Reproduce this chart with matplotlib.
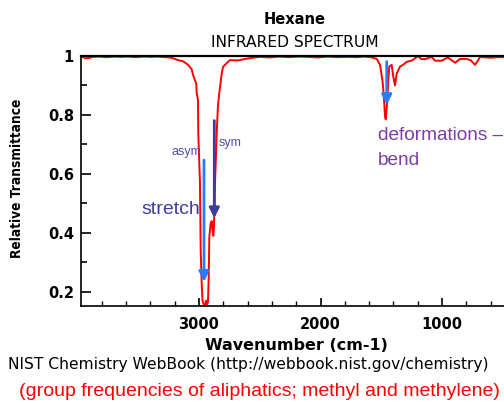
import matplotlib
matplotlib.use("Agg")
import matplotlib.pyplot as plt

# ---- data ----
wavenumber = [3971, 3950, 3935, 3915, 3895, 3880, 3820, 3760, 3700, 3640, 3580, 3520, 3460,
              3400, 3340, 3280, 3240, 3210, 3173, 3130, 3090, 3060, 3049, 3035, 3022, 3019,
              3008, 3006, 2992, 2986, 2978, 2971, 2963, 2951, 2942, 2934, 2926, 2920, 2915,
              2905, 2895, 2889, 2882, 2877, 2868, 2854, 2844, 2833, 2813, 2802, 2772, 2745,
              2679, 2621, 2560, 2498, 2420, 2340, 2260, 2180, 2100, 2020, 1940, 1860, 1780,
              1700, 1640, 1576, 1537, 1510, 1488, 1477, 1469, 1463, 1456, 1450, 1442, 1434,
              1414, 1401, 1387, 1373, 1346, 1321, 1291, 1247, 1195, 1173, 1140, 1085, 1058,
              1003, 951, 893, 852, 797, 762, 729, 704, 687, 605, 540, 490, 457]
transmittance = [0.995, 0.997, 0.992, 0.993, 0.994, 0.997, 0.998, 0.996, 0.998, 0.997, 0.998,
                 0.996, 0.998, 0.997, 0.998, 0.996, 0.995, 0.992, 0.986, 0.982, 0.970, 0.955,
                 0.936, 0.920, 0.905, 0.875, 0.850, 0.740, 0.570, 0.340, 0.230, 0.170, 0.160,
                 0.152, 0.170, 0.158, 0.165, 0.250, 0.386, 0.430, 0.440, 0.410, 0.390, 0.420,
                 0.570, 0.740, 0.830, 0.875, 0.940, 0.963, 0.976, 0.986, 0.985, 0.990, 0.994,
                 0.997, 0.995, 0.998, 0.996, 0.998, 0.997, 0.995, 0.998, 0.996, 0.997, 0.996,
                 0.998, 0.995, 0.990, 0.970, 0.910, 0.850, 0.795, 0.785, 0.820, 0.850, 0.920,
                 0.964, 0.970, 0.930, 0.900, 0.940, 0.964, 0.970, 0.980, 0.985, 1.000, 0.990,
                 0.989, 0.997, 0.984, 0.984, 0.995, 0.977, 0.990, 0.990, 0.985, 0.970, 0.985,
                 0.997, 0.994, 0.996, 0.996, 0.995]

x_major = [3000, 2000, 1000]
x_labels = ["3000", "2000", "1000"]
y_major = [0.2, 0.4, 0.6, 0.8, 1.0]
y_labels = ["0.2", "0.4", "0.6", "0.8", "1"]

# arrows: (wavenumber, start T, end T)
asym_arrow = (2959, 0.647, 0.234)
sym_arrow = (2874, 0.781, 0.450)
bend_arrow = (1455, 0.981, 0.834)

W, H = 504, 403
fig = plt.figure(figsize=(W / 100, H / 100), dpi=100)
ax = fig.add_axes([81 / W, 1 - 306 / H, (508 - 81) / W, (306 - 56) / H])

ax.plot(wavenumber, transmittance, color="#ff0000", lw=1.4, zorder=2)
ax.set_xlim(3971, 457)
ax.set_ylim(0.152, 1.0)

ax.set_xticks(x_major)
ax.set_xticklabels(x_labels)
ax.set_xticks(list(range(3800, 400, -200)), minor=True)
ax.set_yticks(y_major)
ax.set_yticklabels(y_labels)
ax.set_yticks([0.3, 0.5, 0.7, 0.9], minor=True)

ax.tick_params(axis="both", which="both", direction="in", colors="black",
               labelsize=10.5, top=False, right=False)
ax.tick_params(axis="y", which="major", length=7, width=1.2, pad=5)
ax.tick_params(axis="y", which="minor", length=4, width=1.2)
ax.tick_params(axis="x", which="major", length=6, width=1.2, pad=8)
ax.tick_params(axis="x", which="minor", length=3.5, width=1.0)
for lab in ax.get_xticklabels() + ax.get_yticklabels():
    lab.set_fontweight("bold")

ax.spines["right"].set_visible(False)
ax.spines["top"].set_linewidth(1.6)
ax.spines["left"].set_linewidth(1.2)
ax.spines["bottom"].set_linewidth(1.2)

# arrows
light_blue = "#2a7bff"
dark_blue = "#3d3d9e"
for (xw, y0, y1), col in [(asym_arrow, light_blue), (sym_arrow, dark_blue), (bend_arrow, light_blue)]:
    ax.annotate("", xy=(xw, y1), xytext=(xw, y0),
                arrowprops=dict(arrowstyle="-|>,head_width=0.3,head_length=0.6",
                                lw=2.0, color=col, shrinkA=0, shrinkB=0), zorder=3)

arial = "Liberation Sans"
ax.text(3103, 0.675, "asym", color="#4f4fa8", fontsize=9, family=arial, ha="center", va="center")
ax.text(2745, 0.705, "sym", color="#4f4fa8", fontsize=9, family=arial, ha="center", va="center")
ax.text(3235, 0.478, "stretch", color=dark_blue, fontsize=14, family=arial, ha="center", va="center")
ax.text(1527, 0.729, "deformations \u2013", color="#7a3da8", fontsize=13.7, family=arial, ha="left", va="center")
ax.text(1527, 0.647, "bend", color="#7a3da8", fontsize=13.7, family=arial, ha="left", va="center")

# titles and labels
fig.text(295 / W, 1 - 20 / H, "Hexane", fontsize=10.5, fontweight="bold", ha="center", va="center")
fig.text(295 / W, 1 - 42.5 / H, "INFRARED SPECTRUM", fontsize=11.2, ha="center", va="center")
fig.text(296 / W, 1 - 345 / H, "Wavenumber (cm-1)", fontsize=11.5, fontweight="bold", ha="center", va="center")
fig.text(248 / W, 1 - 365 / H, "NIST Chemistry WebBook (http://webbook.nist.gov/chemistry)",
         fontsize=11.2, ha="center", va="center")
fig.text(259 / W, 1 - 392 / H, "(group frequencies of aliphatics; methyl and methylene)",
         fontsize=14, family=arial, color="#ff0000", ha="center", va="center")
fig.text(17 / W, 1 - 178 / H, "Relative Transmittance", fontsize=9.8, fontweight="bold",
         fontstretch="condensed", family="DejaVu Sans",
         rotation=90, ha="center", va="center")

fig.savefig("out.png", dpi=100)
